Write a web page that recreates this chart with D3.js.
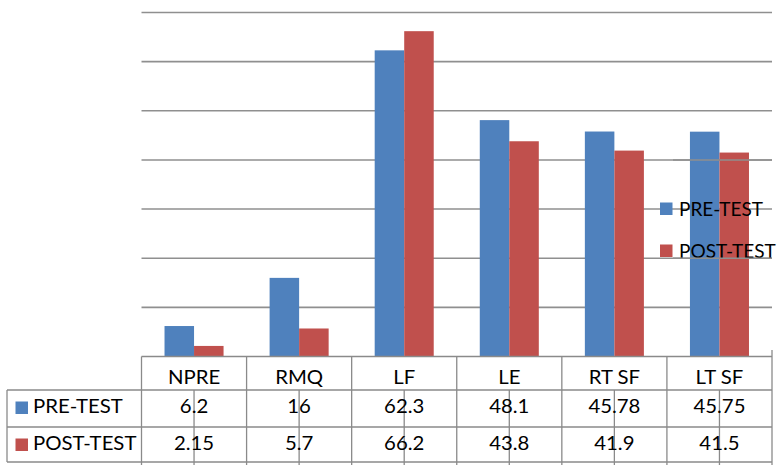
<!DOCTYPE html>
<html>
<head>
<meta charset="utf-8">
<script src="https://cdn.jsdelivr.net/npm/d3@7"></script>
<style>
  body { margin: 0; background: #fff; }
  text { font-family: Lato, "Open Sans", sans-serif; fill: #000; }
</style>
</head>
<body>
<div id="chart"></div>
<script>
const categories = ["NPRE", "RMQ", "LF", "LE", "RT SF", "LT SF"];
const seriesNames = ["PRE-TEST", "POST-TEST"];
const preTest = [6.2, 16, 62.3, 48.1, 45.78, 45.75];
const postTest = [2.15, 5.7, 66.2, 43.8, 41.9, 41.5];
const preLabels = ["6.2", "16", "62.3", "48.1", "45.78", "45.75"];
const postLabels = ["2.15", "5.7", "66.2", "43.8", "41.9", "41.5"];
const yTicks = [0, 10, 20, 30, 40, 50, 60, 70];

const width = 778;
const height = 465;
const colors = ["#4F81BD", "#C0504D"];

const svg = d3.select("#chart")
    .append("svg")
    .attr("width", width)
    .attr("height", height);

// plot area
const plotLeft = 141.5, plotRight = 772, plotTop = 12.5, base = 356.5;

const x = d3.scaleBand()
    .domain(categories)
    .range([plotLeft, plotRight]);

const inner = d3.scaleBand()
    .domain(seriesNames)
    .range([0, x.bandwidth()])
    .paddingOuter(0.78);

const y = d3.scaleLinear()
    .domain([0, 70])
    .range([base, plotTop]);

// the original picture is stretched sideways a little
const fs = 18.5;
function label(parent, tx, ty, str, anchor, stretch) {
    return parent.append("text")
        .attr("transform", `translate(${tx},${ty}) scale(${stretch || 1.1},1)`)
        .attr("text-anchor", anchor || "start")
        .attr("font-size", fs)
        .text(str);
}

// gridlines
svg.append("g")
    .selectAll("line")
    .data(yTicks.slice(1))
    .enter()
    .append("line")
    .attr("x1", plotLeft)
    .attr("x2", plotRight)
    .attr("y1", d => y(d))
    .attr("y2", d => y(d))
    .attr("stroke", "#8f8f8f")
    .attr("stroke-width", 1.6);

// bars
const series = [preTest, postTest];
series.forEach((vals, si) => {
    svg.append("g")
        .selectAll("rect")
        .data(vals)
        .enter()
        .append("rect")
        .attr("x", (d, i) => x(categories[i]) + inner(seriesNames[si]))
        .attr("width", inner.bandwidth())
        .attr("y", d => y(d))
        .attr("height", d => base - y(d))
        .attr("fill", colors[si]);
});

// data table
const rowTop = 390, row2 = 427, tableBottom = 462;
const tbl = svg.append("g")
    .attr("stroke", "#8a8a8a")
    .attr("stroke-width", 1.3);

// axis line / header top
tbl.append("line").attr("x1", plotLeft).attr("x2", plotRight).attr("y1", base).attr("y2", base);
[rowTop, row2, tableBottom].forEach(yy => {
    tbl.append("line").attr("x1", 7).attr("x2", plotRight).attr("y1", yy).attr("y2", yy);
});
tbl.append("line").attr("x1", 7).attr("x2", 7).attr("y1", rowTop).attr("y2", tableBottom);

// column borders
const bounds = categories.map(c => x(c)).concat([plotRight]);
tbl.selectAll(".col")
    .data(bounds)
    .enter()
    .append("line")
    .attr("x1", d => d)
    .attr("x2", d => d)
    .attr("y1", (d, i) => i === bounds.length - 1 ? 350 : base)
    .attr("y2", height);

// center tick lines through value rows
tbl.selectAll(".mid")
    .data(categories)
    .enter()
    .append("line")
    .attr("x1", d => x(d) + x.bandwidth() / 2)
    .attr("x2", d => x(d) + x.bandwidth() / 2)
    .attr("y1", rowTop)
    .attr("y2", height);

const heads = svg.append("g");
categories.forEach(c => label(heads, x(c) + x.bandwidth() / 2, 384, c, "middle"));

[preLabels, postLabels].forEach((labels, si) => {
    const by = si === 0 ? 413 : 450;
    const g = svg.append("g");
    labels.forEach((d, i) => label(g, x(categories[i]) + x.bandwidth() / 2, by, d, "middle"));

    g.append("rect")
        .attr("x", 15.5)
        .attr("y", by - 11.5)
        .attr("width", 12.5)
        .attr("height", 12.5)
        .attr("fill", colors[si]);
    label(g, 33, by, seriesNames[si]);
});

// legend
const legend = svg.append("g");
seriesNames.forEach((name, si) => {
    const ly = 209 + si * 42;
    legend.append("rect")
        .attr("x", 660)
        .attr("y", ly - 6.5)
        .attr("width", 12.5)
        .attr("height", 12.5)
        .attr("fill", colors[si]);
    label(legend, 679, ly + 7, name, "start", 1.03);
});

// gridline drawn through legend text
svg.append("g")
    .selectAll("line")
    .data([40, 20])
    .enter()
    .append("line")
    .attr("x1", 673)
    .attr("x2", plotRight)
    .attr("y1", d => y(d))
    .attr("y2", d => y(d))
    .attr("stroke", "#8f8f8f")
    .attr("stroke-width", 1.6);
</script>
</body>
</html>
